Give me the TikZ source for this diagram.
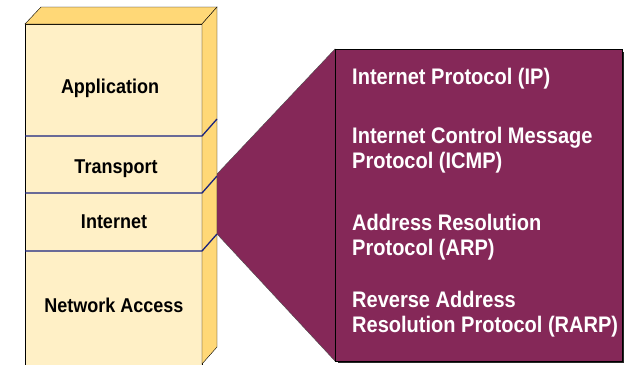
\documentclass[tikz,border=0pt]{standalone}
\usepackage{fontspec}
\setmainfont[FakeStretch=0.9]{Liberation Sans}
\newfontfamily\protofont[FakeStretch=0.89]{Liberation Sans}
\definecolor{facelight}{HTML}{FFF0C6}
\definecolor{facedark}{HTML}{FFD877}
\definecolor{layerline}{HTML}{1A237E}
\definecolor{protopurple}{HTML}{852858}

\begin{document}
\begin{tikzpicture}[x=1pt,y=-1pt,
        layer/.style = {font=\bfseries\fontsize{20}{22}\selectfont,
            text=black, anchor=base, inner sep=0pt},
        proto/.style = {font=\protofont\bfseries\fontsize{22.5}{25}\selectfont,
            text=white, align=left, anchor=base west, inner sep=0pt}]

        \useasboundingbox (0,0) rectangle (636,364);

        % Layer stack
        \draw[thin, fill=facelight] (25,24) rectangle (202,366);
        \draw[thin, fill=facedark] (25,24) -- (41,7) -- (217,7) -- (202,24) -- cycle;
        \draw[thin, fill=facedark] (202,24) -- (217,7) -- (217,347) -- (202,364) -- cycle;

        % Layer borders
        \foreach \y in {136,193,251}
            \draw[layerline, line width=1.3pt] (25,\y) -- (202,\y) -- (217,\y-17);

        % Layer names
        \node[layer] (app) at (110,93) {Application};
        \node[layer] (transport) at (116,173) {Transport};
        \node[layer] (internet) at (114,228) {Internet};
        \node[layer] (netaccess) at (114,312) {Network Access};

        % Zoom box
        \fill[black!85] (338,52) rectangle (624,363);
        \filldraw[fill=protopurple, draw=black!70, thin]
            (217,174) -- (335,49) -- (335,361) -- (217,234) -- cycle;
        \filldraw[fill=protopurple, draw=black, thin] (335,49) rectangle (622,361);

        % Protocols (base = last line)
        \node[proto] (ip) at (352,84) {Internet Protocol (IP)};
        \node[proto] (icmp) at (352,168) {Internet Control Message\\Protocol (ICMP)};
        \node[proto] (arp) at (352,255) {Address Resolution\\Protocol (ARP)};
        \node[proto] (rarp) at (352,332) {Reverse Address\\Resolution Protocol (RARP)};
    \end{tikzpicture}
\end{document}
